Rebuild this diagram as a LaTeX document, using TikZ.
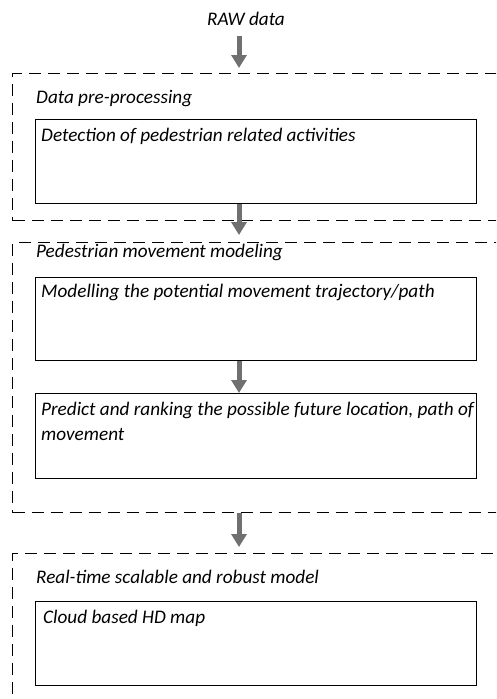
\documentclass[tikz,border=0pt]{standalone}
\usepackage{fontspec}
\setmainfont{Carlito}
\usetikzlibrary{arrows.meta}

\definecolor{flowgray}{RGB}{112,112,112}

\tikzset{
    stage/.style={draw,line width=1.3pt,dash pattern=on 12pt off 7pt,
                  anchor=north west,inner sep=0pt},
    task/.style={draw,line width=1.3pt,anchor=north west,inner sep=0pt},
    caption/.style={anchor=base west,inner sep=0pt,align=left,
                    font=\fontsize{19.2}{25}\selectfont\itshape},
    flow/.style={draw=flowgray,line width=5pt,
                 -{Triangle[width=15pt,length=13pt]}}
}

\begin{document}
\begin{tikzpicture}[x=1pt,y=-1pt]
    \useasboundingbox (0,0) rectangle (496,699);
    \clip (0,0) rectangle (496,699);

    \coordinate (axis) at (239,0);

    \node [caption] (raw) at (207,25) {RAW data};

    % stages
    \node [stage,minimum width=520pt,minimum height=147pt] (pre)  at (12,73)  {};
    \node [stage,minimum width=520pt,minimum height=270pt] (move) at (12,242) {};
    \node [stage,minimum width=520pt,minimum height=200pt] (rt)   at (12,553) {};

    \node [caption] at (36,103) {Data pre-processing};
    \node [caption] at (36,257) {Pedestrian movement modeling};
    \node [caption] at (36,583) {Real-time scalable and robust model};

    % tasks
    \node [task,minimum width=441pt,minimum height=84pt] (det)   at (35,119) {};
    \node [task,minimum width=441pt,minimum height=83pt] (traj)  at (35,277) {};
    \node [task,minimum width=441pt,minimum height=85pt] (pred)  at (35,393) {};
    \node [task,minimum width=441pt,minimum height=84pt] (cloud) at (35,601) {};

    \node [caption] at ([xshift=6pt,yshift=-22pt]det.north west)
        {Detection of pedestrian related activities};
    \node [caption] at ([xshift=6pt,yshift=-20pt]traj.north west)
        {Modelling the potential movement trajectory/path};
    % base of a two-line node sits on its last line
    \node [caption] at ([xshift=6pt,yshift=-47pt]pred.north west)
        {Predict and ranking the possible future location, path of\\movement};
    \node [caption] at ([xshift=8pt,yshift=-22pt]cloud.north west)
        {Cloud based HD map};

    % arrows
    \draw [flow,shorten <=11pt,shorten >=5pt] (raw.south -| axis) -- (pre.north -| axis);
    \draw [flow,shorten >=7pt] (det.south -| axis) -- (move.north -| axis);
    \draw [flow] (traj.south -| axis) -- (pred.north -| axis);
    \draw [flow,shorten >=6pt] (move.south -| axis) -- (rt.north -| axis);

\end{tikzpicture}
\end{document}
